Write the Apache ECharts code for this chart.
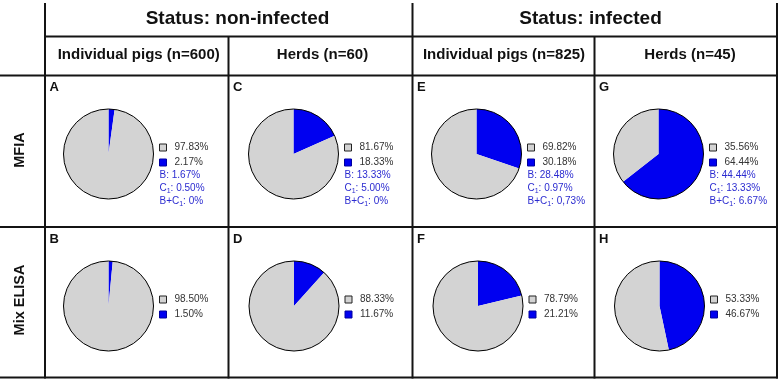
<!DOCTYPE html>
<html>
<head>
<meta charset="utf-8">
<script src="https://cdn.jsdelivr.net/npm/echarts@6/dist/echarts.min.js"></script>
<style>html,body{margin:0;padding:0;background:#fff}#c{width:780px;height:379px}</style>
</head>
<body>
<div id="c"></div>
<script>
// ---- data ----
const statusGroups = ['Status: non-infected', 'Status: infected'];
const columns = ['Individual pigs (n=600)', 'Herds (n=60)', 'Individual pigs (n=825)', 'Herds (n=45)'];
const methods = ['MFIA', 'Mix ELISA'];
const panelLetters = ['A', 'C', 'E', 'G', 'B', 'D', 'F', 'H'];
const negativeShare = [97.83, 81.67, 69.82, 35.56, 98.50, 88.33, 78.79, 53.33];
const positiveShare = [2.17, 18.33, 30.18, 64.44, 1.50, 11.67, 21.21, 46.67];
const mfiaB = ['1.67%', '13.33%', '28.48%', '44.44%'];
const mfiaC1 = ['0.50%', '5.00%', '0.97%', '13.33%'];
const mfiaBC1 = ['0%', '0%', '0,73%', '6.67%'];

// ---- layout / style ----
const GREY = '#d3d3d3', BLUE = '#0000f0', LINE = '#141414', BLUE_TXT = '#2b2bd0', TXT = '#333';
const FONT = 'Liberation Sans, Arial, sans-serif';
const colX = [45, 228.5, 412.5, 594.5, 777];
const rowY = [75.5, 227, 377.5];
const pieCX = [[108.5, 293.5, 476.5, 658.5], [108.5, 294, 478, 659.5]];
const pieCY = [154, 306];
const R = 45;

const series = [];
const legends = [];
const labelMap = {};
const graphic = [];

function line(x1, y1, x2, y2) {
  graphic.push({ type: 'line', shape: { x1, y1, x2, y2 }, style: { stroke: LINE, lineWidth: 2 }, silent: true });
}
function text(x, y, t, font, fill, align, extra) {
  graphic.push(Object.assign({ type: 'text', x, y,
    style: { text: t, font, fill, textAlign: align || 'left', textVerticalAlign: 'middle' }, silent: true }, extra || {}));
}

// grid lines
line(colX[0], 3, colX[0], 378.5);
line(colX[2], 3, colX[2], 378.5);
line(colX[4], 3, colX[4], 378.5);
line(colX[1], 36.5, colX[1], 378.5);
line(colX[3], 36.5, colX[3], 378.5);
line(colX[0], 36.5, colX[4] + 1, 36.5);
line(0, rowY[0], colX[4] + 1, rowY[0]);
line(0, rowY[1], colX[4] + 1, rowY[1]);
line(0, rowY[2], colX[4] + 1, rowY[2]);

// headers
const statusCX = [237.5, 590.5];
statusGroups.forEach((s, i) => text(statusCX[i], 19, s, 'bold 19px ' + FONT, '#111', 'center'));
const colCX = [138.7, 322.5, 504, 690];
columns.forEach((c, i) => text(colCX[i], 55, c, 'bold 15px ' + FONT, '#111', 'center'));
const methodCY = [150, 300];
methods.forEach((m, i) => text(20, methodCY[i], m, 'bold 14.5px ' + FONT, '#111', 'center', { rotation: Math.PI / 2 }));

panelLetters.forEach((L, k) => {
  const r = Math.floor(k / 4), c = k % 4;
  text(colX[c] + 4.5, rowY[r] + 12, L, 'bold 13px ' + FONT, '#111', 'left');
  const cx = pieCX[r][c], cy = pieCY[r];
  const nNeg = L + '-neg', nPos = L + '-pos';
  labelMap[nNeg] = negativeShare[k].toFixed(2) + '%';
  labelMap[nPos] = positiveShare[k].toFixed(2) + '%';
  series.push({
    type: 'pie', center: [cx, cy], radius: [0, R], startAngle: 90, clockwise: true,
    label: { show: false }, labelLine: { show: false }, silent: true, emphasis: { disabled: true },
    data: [
      { name: nPos, value: positiveShare[k], itemStyle: { color: BLUE } },
      { name: nNeg, value: negativeShare[k], itemStyle: { color: GREY } }
    ]
  });
  series.push({
    type: 'pie', center: [cx, cy], radius: [0, R], silent: true, label: { show: false }, labelLine: { show: false },
    emphasis: { disabled: true },
    data: [{ name: L + '-outline', value: 1, itemStyle: { color: 'rgba(0,0,0,0)', borderColor: '#000', borderWidth: 1 } }]
  });
  legends.push({
    orient: 'vertical', left: cx + 45.5, top: cy - 17.5, itemWidth: 7, itemHeight: 7, itemGap: 3,
    selectedMode: false, icon: 'rect',
    textStyle: { fontSize: 10, fontFamily: FONT, color: TXT, lineHeight: 12, padding: [0, 0, 0, 3] },
    formatter: n => labelMap[n],
    data: [
      { name: nNeg, itemStyle: { color: GREY, borderColor: '#222', borderWidth: 1 } },
      { name: nPos, itemStyle: { color: BLUE, borderColor: '#0000a0', borderWidth: 1 } }
    ]
  });
  if (r === 0) {
    const tx = cx + 51;
    const rich = { s: { fontSize: 7, fontFamily: FONT, fill: BLUE_TXT, verticalAlign: 'bottom', lineHeight: 12 } };
    const mk = (y, t) => graphic.push({ type: 'text', x: tx, y, silent: true,
      style: { text: t, font: '10px ' + FONT, fill: BLUE_TXT, textVerticalAlign: 'middle', lineHeight: 12, rich } });
    mk(175, 'B: ' + mfiaB[c]);
    mk(188.3, 'C{s|1}: ' + mfiaC1[c]);
    mk(201.6, 'B+C{s|1}: ' + mfiaBC1[c]);
  }
});

const chart = echarts.init(document.getElementById('c'), null, { renderer: 'canvas' });
chart.setOption({
  animation: false,
  backgroundColor: '#fff',
  legend: legends,
  series: series,
  graphic: { elements: graphic }
});
</script>
</body>
</html>
